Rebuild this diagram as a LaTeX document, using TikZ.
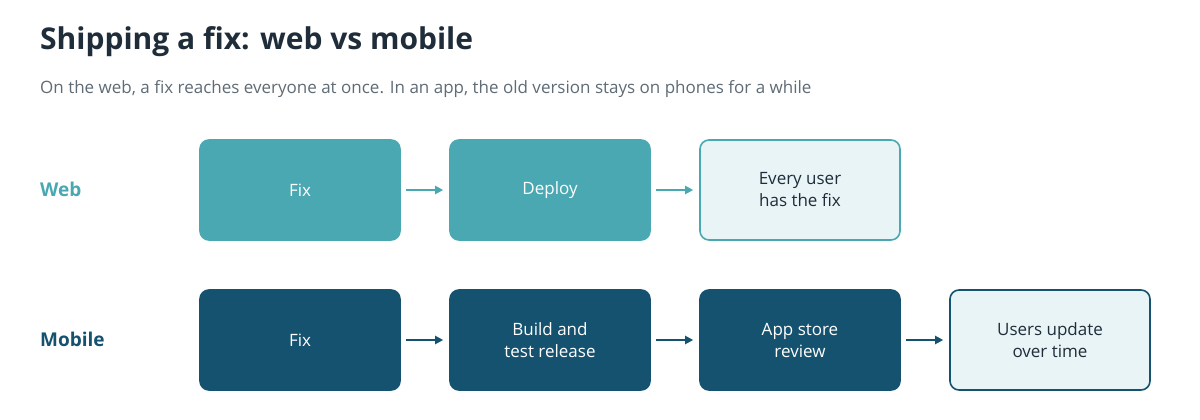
\documentclass[tikz,border=0pt]{standalone}
\usepackage{fontspec}
\setmainfont{Open Sans}
\usetikzlibrary{arrows.meta}
\definecolor{teal}{HTML}{4AA8B2}
\definecolor{dark}{HTML}{14526F}
\definecolor{pale}{HTML}{E8F4F5}
\definecolor{ink}{HTML}{1F2D3A}
\definecolor{sub}{HTML}{5F6B75}
\begin{document}
\begin{tikzpicture}[x=1pt,y=-1pt,
  box/.style={rounded corners=9pt,minimum width=200pt,minimum height=100pt,inner sep=0pt,align=center,font=\fontsize{17}{22}\selectfont,line width=1.6pt},
  web/.style={box,fill=teal,draw=teal,text=white},
  webend/.style={box,fill=pale,draw=teal,text=ink},
  mob/.style={box,fill=dark,draw=dark,text=white},
  mobend/.style={box,fill=pale,draw=dark,text=ink},
  arr/.style={-{Triangle[length=8pt,width=8pt]},line width=2pt,shorten <=5pt,shorten >=6pt}]
\useasboundingbox (0,0) rectangle (1200,420);
\fill[white] (0,0) rectangle (1200,420);
\node[anchor=base west,inner sep=0pt,text=ink,font=\fontsize{30}{36}\selectfont\bfseries] (title) at (40,50) {Shipping a fix: web vs mobile};
\node[anchor=base west,inner sep=0pt,text=sub,font=\fontsize{17}{22}\selectfont] (subt) at (40,94) {On the web, a fix reaches everyone at once. In an app, the old version stays on phones for a while};
\node[anchor=west,inner sep=0pt,text=teal,font=\fontsize{19}{22}\selectfont\bfseries] (lw) at (40,189) {Web};
\node[anchor=west,inner sep=0pt,text=dark,font=\fontsize{19}{22}\selectfont\bfseries] (lm) at (40,339) {Mobile};
\node[web] (w1) at (300,190) {Fix};
\node[web] (w2) at (550,190) {Deploy};
\node[webend] (w3) at (800,190) {Every user\\has the fix};
\node[mob] (m1) at (300,340) {Fix};
\node[mob] (m2) at (550,340) {Build and\\test release};
\node[mob] (m3) at (800,340) {App store\\review};
\node[mobend] (m4) at (1050,340) {Users update\\over time};
\draw[arr,teal] (w1) -- (w2);
\draw[arr,teal] (w2) -- (w3);
\draw[arr,dark] (m1) -- (m2);
\draw[arr,dark] (m2) -- (m3);
\draw[arr,dark] (m3) -- (m4);
\end{tikzpicture}
\end{document}
